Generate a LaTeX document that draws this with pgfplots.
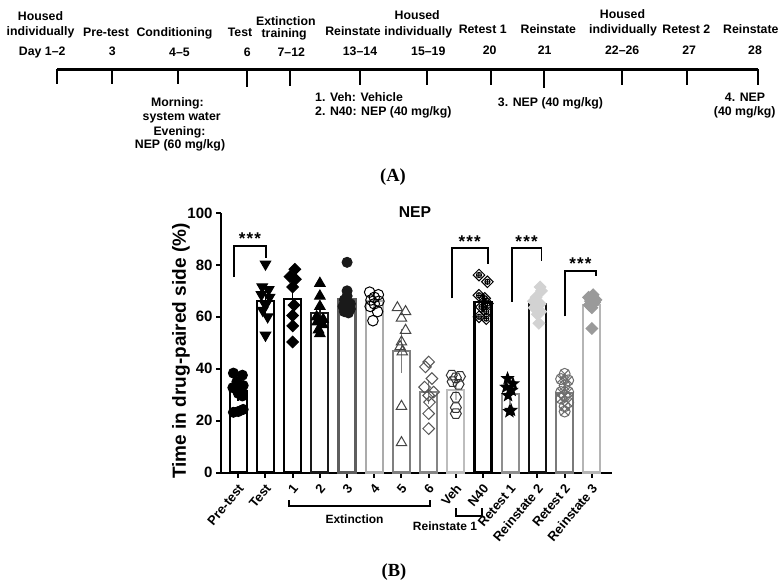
\documentclass[border=0pt]{standalone}
\usepackage{fontspec}
\setmainfont{Liberation Sans}
\newfontfamily\serifA{Liberation Serif}
\usepackage{pgfplots}
\pgfplotsset{compat=1.18}
\usetikzlibrary{plotmarks}

\pgfdeclareplotmark{sd}{\pgfpathmoveto{\pgfqpoint{0pt}{\pgfplotmarksize}}\pgfpathlineto{\pgfqpoint{\pgfplotmarksize}{0pt}}\pgfpathlineto{\pgfqpoint{0pt}{-\pgfplotmarksize}}\pgfpathlineto{\pgfqpoint{-\pgfplotmarksize}{0pt}}\pgfpathclose\pgfusepathqstroke}
\pgfdeclareplotmark{sd*}{\pgfpathmoveto{\pgfqpoint{0pt}{\pgfplotmarksize}}\pgfpathlineto{\pgfqpoint{\pgfplotmarksize}{0pt}}\pgfpathlineto{\pgfqpoint{0pt}{-\pgfplotmarksize}}\pgfpathlineto{\pgfqpoint{-\pgfplotmarksize}{0pt}}\pgfpathclose\pgfusepathqfillstroke}
\pgfdeclareplotmark{sdplus}{\pgfpathmoveto{\pgfqpoint{0pt}{\pgfplotmarksize}}\pgfpathlineto{\pgfqpoint{\pgfplotmarksize}{0pt}}\pgfpathlineto{\pgfqpoint{0pt}{-\pgfplotmarksize}}\pgfpathlineto{\pgfqpoint{-\pgfplotmarksize}{0pt}}\pgfpathclose
\pgfpathmoveto{\pgfqpoint{-0.5\pgfplotmarksize}{0pt}}\pgfpathlineto{\pgfqpoint{0.5\pgfplotmarksize}{0pt}}\pgfpathmoveto{\pgfqpoint{0pt}{-0.5\pgfplotmarksize}}\pgfpathlineto{\pgfqpoint{0pt}{0.5\pgfplotmarksize}}\pgfpathcircle{\pgfpointorigin}{0.45\pgfplotmarksize}\pgfusepathqstroke}
\pgfdeclareplotmark{hex}{\pgfpathmoveto{\pgfpointpolar{0}{\pgfplotmarksize}}\pgfpathlineto{\pgfpointpolar{60}{\pgfplotmarksize}}\pgfpathlineto{\pgfpointpolar{120}{\pgfplotmarksize}}\pgfpathlineto{\pgfpointpolar{180}{\pgfplotmarksize}}\pgfpathlineto{\pgfpointpolar{240}{\pgfplotmarksize}}\pgfpathlineto{\pgfpointpolar{300}{\pgfplotmarksize}}\pgfpathclose\pgfusepathqstroke}
\pgfdeclareplotmark{fstar}{\pgfpathmoveto{\pgfpointpolar{90}{\pgfplotmarksize}}\pgfpathlineto{\pgfpointpolar{126}{0.42\pgfplotmarksize}}\pgfpathlineto{\pgfpointpolar{162}{\pgfplotmarksize}}\pgfpathlineto{\pgfpointpolar{198}{0.42\pgfplotmarksize}}\pgfpathlineto{\pgfpointpolar{234}{\pgfplotmarksize}}\pgfpathlineto{\pgfpointpolar{270}{0.42\pgfplotmarksize}}\pgfpathlineto{\pgfpointpolar{306}{\pgfplotmarksize}}\pgfpathlineto{\pgfpointpolar{342}{0.42\pgfplotmarksize}}\pgfpathlineto{\pgfpointpolar{18}{\pgfplotmarksize}}\pgfpathlineto{\pgfpointpolar{54}{0.42\pgfplotmarksize}}\pgfpathclose\pgfusepathqfillstroke}

\definecolor{b3}{HTML}{1A1A1A}
\definecolor{b4}{HTML}{5E5E5E}
\definecolor{b5}{HTML}{ABABAB}
\definecolor{b6}{HTML}{7F7F7F}
\definecolor{b7}{HTML}{858585}
\definecolor{b8}{HTML}{BDBDBD}
\definecolor{b10}{HTML}{8F8F8F}
\definecolor{b11}{HTML}{111111}
\definecolor{b12}{HTML}{7A7A7A}
\definecolor{b13}{HTML}{B5B5B5}
\definecolor{m6}{HTML}{444444}
\definecolor{m7}{HTML}{555555}
\definecolor{m8}{HTML}{333333}
\definecolor{m11}{HTML}{D2D2D2}
\definecolor{m12}{HTML}{6E6E6E}
\definecolor{m13}{HTML}{9A9A9A}

\newcommand\fa{\fontsize{12.3}{14}\selectfont\bfseries}
\newcommand\fb{\fontsize{12}{14}\selectfont\bfseries}
\newcommand\stars{*\hspace{1.2pt}*\hspace{1.2pt}*}

\pgfplotsset{
  barst/.style={ybar, bar width=17pt, bar shift=0pt, fill=white, line width=2.2pt, forget plot},
  errst/.style={draw=none, mark=none, forget plot, error bars/.cd, y dir=both, y explicit,
     error bar style={line width=1.6pt, draw=#1}, error mark options={mark size=4.5pt, line width=1.6pt, draw=#1}},
  ptst/.style={only marks, forget plot, mark size=5pt, line width=1pt},
}

\begin{document}
\begin{tikzpicture}
\path[use as bounding box] (0,0) rectangle (782pt,587pt);

% ---------- canvas (timeline and annotations), pixel coordinates ----------
\begin{axis}[at={(0pt,0pt)}, anchor=south west, scale only axis, width=782pt, height=587pt,
  xmin=0, xmax=782, ymin=0, ymax=587, y dir=reverse, hide axis, clip=false]
\addplot[line width=3pt, black] coordinates {(57,69) (758,69)};
\addplot[line width=2.6pt, black] coordinates {(57,69) (57,83.5)};
\addplot[line width=2.6pt, black] coordinates {(112,69) (112,83.5)};
\addplot[line width=2.6pt, black] coordinates {(178,69) (178,83.5)};
\addplot[line width=2.6pt, black] coordinates {(247,69) (247,87)};
\addplot[line width=2.6pt, black] coordinates {(290,69) (290,86)};
\addplot[line width=2.6pt, black] coordinates {(360,69) (360,84.5)};
\addplot[line width=2.6pt, black] coordinates {(427,69) (427,85)};
\addplot[line width=2.6pt, black] coordinates {(491,69) (491,85)};
\addplot[line width=2.6pt, black] coordinates {(544,69) (544,88)};
\addplot[line width=2.6pt, black] coordinates {(622,69) (622,84.5)};
\addplot[line width=2.6pt, black] coordinates {(687,69) (687,85)};
\addplot[line width=2.6pt, black] coordinates {(758,69) (758,85)};

\node[font=\fa, anchor=base] at (axis cs:40.5,20) {Housed};
\node[font=\fa, anchor=base] at (axis cs:40.5,35) {individually};
\node[font=\fa, anchor=base] at (axis cs:42.2,55) {Day 1–2};
\node[font=\fa, anchor=base] at (axis cs:106,36.7) {Pre-test};
\node[font=\fa, anchor=base] at (axis cs:112.3,55.7) {3};
\node[font=\fa, anchor=base] at (axis cs:174.5,36.7) {Conditioning};
\node[font=\fa, anchor=base] at (axis cs:179.5,56) {4–5};
\node[font=\fa, anchor=base] at (axis cs:240,36.7) {Test};
\node[font=\fa, anchor=base] at (axis cs:247.3,56) {6};
\node[font=\fa, anchor=base] at (axis cs:285.8,25) {Extinction};
\node[font=\fa, anchor=base] at (axis cs:284.2,37.3) {training};
\node[font=\fa, anchor=base] at (axis cs:291.3,56) {7–12};
\node[font=\fa, anchor=base] at (axis cs:353,35) {Reinstate};
\node[font=\fa, anchor=base] at (axis cs:360,55) {13–14};
\node[font=\fa, anchor=base] at (axis cs:417.2,19) {Housed};
\node[font=\fa, anchor=base] at (axis cs:418.3,35) {individually};
\node[font=\fa, anchor=base] at (axis cs:428.3,55) {15–19};
\node[font=\fa, anchor=base] at (axis cs:482.7,33.3) {Retest 1};
\node[font=\fa, anchor=base] at (axis cs:489.7,54) {20};
\node[font=\fa, anchor=base] at (axis cs:548.3,33.3) {Reinstate};
\node[font=\fa, anchor=base] at (axis cs:544.7,54) {21};
\node[font=\fa, anchor=base] at (axis cs:622.5,18.3) {Housed};
\node[font=\fa, anchor=base] at (axis cs:623,33.3) {individually};
\node[font=\fa, anchor=base] at (axis cs:622.2,54) {22–26};
\node[font=\fa, anchor=base] at (axis cs:686.3,33.3) {Retest 2};
\node[font=\fa, anchor=base] at (axis cs:689.2,54) {27};
\node[font=\fa, anchor=base] at (axis cs:750.8,33.3) {Reinstate};
\node[font=\fa, anchor=base] at (axis cs:755,54) {28};
\node[font=\fa, anchor=base] at (axis cs:177.5,106) {Morning:};
\node[font=\fa, anchor=base] at (axis cs:181.7,120.5) {system water};
\node[font=\fa, anchor=base] at (axis cs:179.5,135) {Evening:};
\node[font=\fa, anchor=base] at (axis cs:180,148.3) {NEP (60 mg/kg)};
\node[font=\fa, anchor=base west, inner xsep=0pt] at (axis cs:315,101.7) {1. Veh: Vehicle};
\node[font=\fa, anchor=base west, inner xsep=0pt] at (axis cs:315,115) {2. N40: NEP (40 mg/kg)};
\node[font=\fa, anchor=base] at (axis cs:550.5,106.7) {3. NEP (40 mg/kg)};
\node[font=\fa, anchor=base] at (axis cs:745,101) {4. NEP};
\node[font=\fa, anchor=base] at (axis cs:744.7,115) {(40 mg/kg)};
\node[font=\serifA\fontsize{18.5}{20}\selectfont\bfseries, anchor=base] at (axis cs:393,181.7) {(A)};

\node[font=\fontsize{15.7}{18}\selectfont\bfseries, anchor=base] at (axis cs:415,217.3) {NEP};
\node[font=\fontsize{19}{22}\selectfont\bfseries, rotate=90] at (axis cs:181,351) {Time in drug-paired side (\%)};
\addplot[line width=2pt, black] coordinates {(289.3,500) (289.3,505.5) (430,505.5) (430,500)};
\node[font=\fb, anchor=base] at (axis cs:354.5,523.3) {Extinction};
\addplot[line width=2pt, black] coordinates {(455.7,508) (455.7,515.5) (482,515.5) (482,508)};
\node[font=\fb, anchor=base] at (axis cs:445,530.7) {Reinstate 1};
\node[font=\serifA\fontsize{18.5}{20}\selectfont\bfseries, anchor=base] at (axis cs:394,576.7) {(B)};
\end{axis}

% ---------- bar chart ----------
\begin{axis}[at={(221pt,114.5pt)}, anchor=south west, scale only axis, width=390.7pt, height=259.5pt,
  xmin=-0.636, xmax=13.73, ymin=0, ymax=100, clip=false,
  axis lines=left, axis line style={line width=2pt, -},
  tick align=outside, major tick length=5pt, tick style={line width=2pt, black},
  ytick={0,20,...,100}, xtick={0,1,...,13},
  xticklabels={Pre-test,Test,1,2,3,4,5,6,Veh,N40,Retest 1,Reinstate 2,Retest 2,Reinstate 3},
  /pgf/number format/assume math mode=true,
  yticklabel style={font=\fontsize{15}{17}\selectfont\bfseries},
  xticklabel style={font=\fontsize{13}{15}\selectfont\bfseries, xshift=5pt, yshift=-6pt, rotate=50, anchor=east},
]
% bars
\addplot[barst, draw=black] coordinates {(0,31.3)};
\addplot[barst, draw=black] coordinates {(1,66.0)};
\addplot[barst, draw=black] coordinates {(2,66.8)};
\addplot[barst, draw=b3] coordinates {(3,61.5)};
\addplot[barst, draw=b4] coordinates {(4,66.9)};
\addplot[barst, draw=b5] coordinates {(5,66.0)};
\addplot[barst, draw=b6] coordinates {(6,46.8)};
\addplot[barst, draw=b7] coordinates {(7,31.0)};
\addplot[barst, draw=b8] coordinates {(8,31.9)};
\addplot[barst, draw=black] coordinates {(9,65.6)};
\addplot[barst, draw=b10] coordinates {(10,30.1)};
\addplot[barst, draw=b11] coordinates {(11,64.9)};
\addplot[barst, draw=b12] coordinates {(12,30.6)};
\addplot[barst, draw=b13] coordinates {(13,64.6)};

% individual points
\addplot[ptst, black, mark=*] coordinates {(-0.18,38.3) (0.15,37.5) (-0.05,35.0) (0.18,33.5) (-0.2,32.7) (0.0,30.5) (0.15,29.5) (0.18,24.3) (-0.18,23.2) (0.0,23.5)};
\addplot[ptst, black, mark=triangle*, mark size=6pt, mark options={rotate=180}] coordinates {(1,80.3) (0.88,71.5) (1.12,70.5) (0.85,68.5) (1.15,67.5) (1,64.5) (0.9,62.5) (1.08,60) (1,52.9)};
\addplot[ptst, black, mark=sd*, mark size=5.8pt] coordinates {(2.08,78.3) (1.9,75.5) (2.1,74.5) (2,71.5) (2.05,64.5) (2,60.5) (2,56.5) (2,50.3)};
\addplot[ptst, black, mark=triangle*, mark size=6pt] coordinates {(3,72.9) (3,68) (3,64) (2.88,60) (3.12,59) (2.9,58) (3.1,57) (2.95,55) (3,53.5)};
\addplot[ptst, b3, mark=*] coordinates {(4,81) (4,70) (4,68) (3.9,66.5) (4.12,65) (3.85,64) (4.12,63) (3.9,62) (4.05,61.5)};
\addplot[ptst, black, mark=o, mark size=5.3pt] coordinates {(4.83,69.5) (5.15,68.5) (5,67.5) (4.88,66.5) (5.17,66) (5,65) (4.85,64) (5.12,62) (4.95,58.5)};
\addplot[ptst, m6, mark=triangle, mark size=6pt] coordinates {(5.85,63.5) (6.15,62) (6,59.5) (6.15,54.8) (6,50.3) (5.95,48.5) (6.03,46.5) (6,25.5) (6,11.5)};
\addplot[ptst, m7, mark=sd, mark size=5.8pt] coordinates {(7,42.6) (6.88,40.7) (7.12,36.2) (6.85,32.9) (7.18,31) (7,29.7) (7.03,27.1) (7,22.7) (7,16.9)};
\addplot[ptst, m8, mark=hex, mark size=5.5pt] coordinates {(7.85,37.5) (8.15,37) (8,36.5) (7.88,35) (8.1,34) (8,29) (8,25) (8,22.7)};
\addplot[ptst, black, mark=sdplus, mark size=5.8pt] coordinates {(8.85,76.1) (9.16,73.5) (8.85,68.3) (9.06,67.1) (9.16,65.1) (8.94,63.8) (9.12,61.9) (8.85,60) (9.12,59.3)};
\addplot[ptst, black, mark=fstar, mark size=6pt] coordinates {(9.9,36.2) (10.1,34.2) (9.85,32.9) (10.05,31.7) (9.92,29.7) (10.03,24) (9.97,23.5)};
\addplot[ptst, m11, mark=sd*, mark size=5.8pt] coordinates {(11.1,71.5) (11.15,70) (10.95,67.5) (10.85,66) (11.1,65) (10.88,63.5) (11.12,62) (11,61) (11.05,57.5)};
\addplot[ptst, m12, mark=otimes, mark size=5.5pt] coordinates {(12,38) (11.87,36) (12.13,35.5) (12,33.5) (11.87,31) (12.13,31) (12,29.5) (11.87,28.5) (12.13,27) (12,25.5) (12,23.5)};
\addplot[ptst, m13, mark=sd*, mark size=5.8pt] coordinates {(13.05,68.5) (12.88,67.5) (13.15,66.5) (12.95,66) (13.1,65.5) (12.9,64.5) (13,63.5) (13,55.5)};

% error bars (mean +- SEM)
\addplot[errst=black] coordinates {(0,31.3) +- (0,2.0)};
\addplot[errst=black] coordinates {(1,66.0) +- (0,3.0)};
\addplot[errst=black] coordinates {(2,66.8) +- (0,3.7)};
\addplot[errst=b3] coordinates {(3,61.5) +- (0,2.2)};
\addplot[errst=b4] coordinates {(4,66.9) +- (0,2.3)};
\addplot[errst=b5] coordinates {(5,66.0) +- (0,1.2)};
\addplot[errst=b6] coordinates {(6,46.8) +- (0,6.7)};
\addplot[errst=b7] coordinates {(7,31.0) +- (0,2.8)};
\addplot[errst=b8] coordinates {(8,31.9) +- (0,2.2)};
\addplot[errst=black] coordinates {(9,65.6) +- (0,1.9)};
\addplot[errst=b10] coordinates {(10,30.1) +- (0,1.9)};
\addplot[errst=b11] coordinates {(11,64.9) +- (0,1.7)};
\addplot[errst=b12] coordinates {(12,30.6) +- (0,1.4)};
\addplot[errst=b13] coordinates {(13,64.6) +- (0,1.4)};

% significance brackets
\addplot[line width=1.8pt, black, forget plot] coordinates {(-0.15,75.3) (-0.15,87.4) (1.02,87.4) (1.02,82.6)};
\addplot[line width=1.8pt, black, forget plot] coordinates {(7.87,67.1) (7.87,86.6) (9.17,86.6) (9.17,80.2)};
\addplot[line width=1.8pt, black, forget plot] coordinates {(10.05,65.8) (10.05,86.6) (11.15,86.6) (11.15,81.5)};
\addplot[line width=1.8pt, black, forget plot] coordinates {(12.01,60.2) (12.01,77.7) (13.15,77.7) (13.15,75.7)};
\node[font=\fontsize{17}{18}\selectfont\bfseries, anchor=base] at (axis cs:0.43,87.8) {\stars};
\node[font=\fontsize{17}{18}\selectfont\bfseries, anchor=base] at (axis cs:8.51,86.7) {\stars};
\node[font=\fontsize{17}{18}\selectfont\bfseries, anchor=base] at (axis cs:10.6,86.7) {\stars};
\node[font=\fontsize{17}{18}\selectfont\bfseries, anchor=base] at (axis cs:12.58,78.4) {\stars};
\end{axis}
\end{tikzpicture}
\end{document}
